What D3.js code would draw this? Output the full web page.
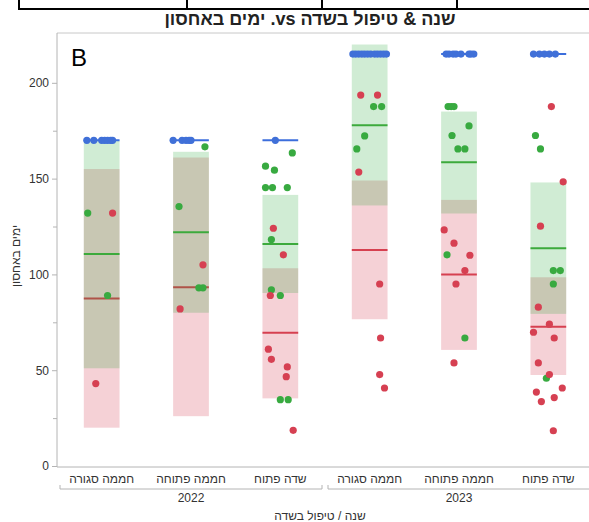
<!DOCTYPE html>
<html lang="he">
<head>
  <meta charset="UTF-8">
  <title>ימים באחסון</title>
  <script src="https://d3js.org/d3.v7.min.js"></script>
  <style>
    body { margin: 0; background: #fff; }
    svg { width: 589px; height: 522px; display: block; }
    text { font-family: "Liberation Sans", "DejaVu Sans", sans-serif; fill: #333; }
  </style>
</head>
<body>
  <svg></svg>

  <script>
    const years = [`2022`, `2023`];
    const treatments = [`חממה סגורה`, `חממה פתוחה`, `שדה פתוח`];
    const yTicks = [0, 50, 100, 150, 200];
    const yMinorTicks = [25, 75, 125, 175];

    // box ranges [low, high] per category (2022 x3, 2023 x3)
    const greenBoxes = [[51, 170], [80, 164], [90.3, 141.5], [136, 220], [131.8, 185], [79.4, 148]];
    const redBoxes = [[20, 155], [26, 161], [35.3, 103.2], [76.6, 149], [60.6, 138.9], [47.5, 98.5]];
    const greenMeans = [110.7, 122, 115.9, 177.9, 158.6, 113.7];
    const redMeans = [87.4, 93.3, 69.6, 112.8, 99.9, 72.7];
    const blueLevels = [170, 170, 170, 215, 215, 215];

    // jitter inside the box, -1 .. 1
    const blueJitter = [
      [-0.83, -0.44, 0, 0.17, 0.33, 0.5, 0.61],
      [-1, -0.5, -0.28, -0.11, 0],
      [-0.28],
      [-0.94, -0.78, -0.61, -0.44, -0.28, -0.11, 0.06, 0.28, 0.44, 0.61, 0.78, 0.94],
      [-0.72, -0.56, -0.33, -0.17, 0.11, 0.56, 0.67, 0.83],
      [-0.83, -0.5, -0.22, 0.06, 0.39]
    ];

    // [value, jitter]
    const greenPoints = [
      [[132, -0.78], [89, 0.33]],
      [[166.6, 0.78], [135.4, -0.67], [93, 0.44], [93, 0.67]],
      [[163.4, 0.67], [156.5, -0.83], [154.4, -0.33], [145.3, -0.83], [145.3, -0.44], [145.3, 0.39],
       [118.2, -0.5], [92, -0.5], [89, 0], [34.6, 0], [34.6, 0.44]],
      [[187.6, 0.22], [187.6, 0.67], [172.3, -0.28], [165.5, -0.72]],
      [[187.6, -0.61], [187.6, -0.44], [187.6, -0.28], [177.5, 0.56], [172.5, -0.39], [165.5, -0.06],
       [165.5, 0.33], [110.2, -0.67], [66.8, 0.33]],
      [[172.5, -0.72], [165.5, -0.44], [102, 0.28], [102, 0.67], [95, 0.28], [45.8, -0.11]]
    ];

    const redPoints = [
      [[132, 0.61], [43, -0.33]],
      [[105, 0.67], [82, -0.61]],
      [[124.1, -0.39], [110.2, 0.17], [89, -0.56], [61, -0.67], [55.7, -0.5], [51.7, 0.39], [46.6, 0.33], [18.6, 0.72]],
      [[193.6, -0.5], [193.6, 0.44], [153.4, -0.61], [95, 0.56], [66.8, 0.61], [47.7, 0.56], [40.7, 0.83]],
      [[123.2, -0.83], [116.3, -0.28], [110, 0.61], [102, 0.33], [95, -0.17], [53.8, -0.28]],
      [[187.6, 0.17], [148.3, 0.83], [125.2, -0.44], [82.9, -0.56], [74, 0.06], [69.8, -0.83], [66.8, 0.33],
       [53.8, -0.56], [47.7, 0.06], [40.7, 0.78], [38.6, -0.67], [35.7, 0.33], [33.6, -0.39], [18.4, 0.28]]
    ];

    const plot = {left: 57, right: 593, top: 33, bottom: 466};
    const categories = d3.range(years.length * treatments.length);

    const xScale = d3.scaleBand()
      .domain(categories)
      .range([plot.left, plot.right]);
    const yScale = d3.scaleLinear()
      .domain([0, 226])
      .range([plot.bottom, plot.top]);

    const boxW = xScale.bandwidth() * 0.4;
    const cx = i => xScale(i) + xScale.bandwidth() / 2;
    const jx = (i, j) => cx(i) + j * boxW / 2;

    const svg = d3.select(`svg`);

    // remnant of the table above the chart
    svg.append(`line`).attr(`x1`, 19).attr(`x2`, 589).attr(`y1`, 9).attr(`y2`, 9)
      .attr(`stroke`, `#000`).attr(`stroke-width`, 2);
    [19, 187, 322, 457].forEach(x => {
      svg.append(`line`).attr(`x1`, x).attr(`x2`, x).attr(`y1`, 0).attr(`y2`, 10)
        .attr(`stroke`, `#000`).attr(`stroke-width`, 2);
    });

    svg.append(`text`)
      .attr(`x`, 310).attr(`y`, 25)
      .attr(`text-anchor`, `middle`)
      .attr(`direction`, `rtl`)
      .style(`direction`, `rtl`)
      .attr(`font-size`, 18).attr(`font-weight`, `bold`)
      .style(`fill`, `#222`)
      .text(`שנה & טיפול בשדה vs. ימים באחסון`);

    // frame
    svg.append(`line`).attr(`x1`, plot.left).attr(`x2`, 589).attr(`y1`, plot.top).attr(`y2`, plot.top)
      .attr(`stroke`, `#c8c8c8`);
    svg.append(`line`).attr(`x1`, plot.left).attr(`x2`, 589).attr(`y1`, plot.bottom + 1).attr(`y2`, plot.bottom + 1)
      .attr(`stroke`, `#b4b4b4`);

    // red boxes + means (under the translucent green)
    svg.selectAll(`.rbox`).data(redBoxes).enter().append(`rect`)
      .attr(`x`, (d, i) => cx(i) - boxW / 2)
      .attr(`width`, boxW)
      .attr(`y`, d => yScale(d[1]))
      .attr(`height`, d => yScale(d[0]) - yScale(d[1]))
      .attr(`fill`, `rgb(245,209,214)`);
    svg.selectAll(`.rmean`).data(redMeans).enter().append(`line`)
      .attr(`x1`, (d, i) => cx(i) - boxW / 2).attr(`x2`, (d, i) => cx(i) + boxW / 2)
      .attr(`y1`, d => yScale(d)).attr(`y2`, d => yScale(d))
      .attr(`stroke`, `rgb(214,64,80)`).attr(`stroke-width`, 2);

    svg.selectAll(`.gbox`).data(greenBoxes).enter().append(`rect`)
      .attr(`x`, (d, i) => cx(i) - boxW / 2)
      .attr(`width`, boxW)
      .attr(`y`, d => yScale(d[1]))
      .attr(`height`, d => yScale(d[0]) - yScale(d[1]))
      .attr(`fill`, `rgb(20,160,40)`).attr(`fill-opacity`, 0.2);
    svg.selectAll(`.gmean`).data(greenMeans).enter().append(`line`)
      .attr(`x1`, (d, i) => cx(i) - boxW / 2).attr(`x2`, (d, i) => cx(i) + boxW / 2)
      .attr(`y1`, d => yScale(d)).attr(`y2`, d => yScale(d))
      .attr(`stroke`, `rgb(60,170,60)`).attr(`stroke-width`, 2);

    svg.selectAll(`.bline`).data(blueLevels).enter().append(`line`)
      .attr(`x1`, (d, i) => cx(i) - boxW / 2).attr(`x2`, (d, i) => cx(i) + boxW / 2)
      .attr(`y1`, d => yScale(d)).attr(`y2`, d => yScale(d))
      .attr(`stroke`, `rgb(60,110,220)`).attr(`stroke-width`, 2);

    const dot = (pts, color) => {
      pts.forEach((list, i) => {
        svg.append(`g`).selectAll(`circle`).data(list).enter().append(`circle`)
          .attr(`cx`, d => jx(i, d[1]))
          .attr(`cy`, d => yScale(d[0]))
          .attr(`r`, 3.6)
          .attr(`fill`, color);
      });
    };
    dot(blueJitter.map((js, i) => js.map(j => [blueLevels[i], j])), `rgb(64,112,216)`);
    dot(greenPoints, `rgb(56,170,64)`);
    dot(redPoints, `rgb(214,64,82)`);

    // y axis
    const yAxis = d3.axisLeft(yScale).tickValues(yTicks).tickSize(5).tickPadding(3);
    const yG = svg.append(`g`).attr(`transform`, `translate(${plot.left}, 0)`).call(yAxis);
    yG.select(`.domain`).attr(`stroke`, `#b4b4b4`).attr(`d`, `M0,${plot.top}V${plot.bottom + 1}`);
    yG.selectAll(`.tick line`).attr(`stroke`, `#b4b4b4`);
    yG.selectAll(`.tick text`).attr(`font-size`, 12).style(`fill`, `#333`)
      .attr(`font-family`, `"Liberation Sans", sans-serif`);
    const yMinor = d3.axisLeft(yScale).tickValues(yMinorTicks).tickSize(4).tickFormat(``);
    const yMG = svg.append(`g`).attr(`transform`, `translate(${plot.left}, 0)`).call(yMinor);
    yMG.select(`.domain`).remove();
    yMG.selectAll(`.tick line`).attr(`stroke`, `#b4b4b4`);

    svg.append(`text`)
      .attr(`transform`, `translate(20, 256) rotate(-90)`)
      .attr(`text-anchor`, `middle`)
      .attr(`font-size`, 12)
      .text(`ימים באחסון`);

    svg.append(`text`)
      .attr(`x`, 71).attr(`y`, 66)
      .attr(`font-family`, `Lato, sans-serif`)
      .attr(`font-size`, 24)
      .style(`fill`, `#000`)
      .text(`B`);

    // nested x axis
    svg.selectAll(`.cat`).data(categories).enter().append(`text`)
      .attr(`x`, i => cx(i)).attr(`y`, 483)
      .attr(`text-anchor`, `middle`)
      .attr(`font-size`, 12)
      .text(i => treatments[i % treatments.length]);

    years.forEach((yr, k) => {
      const a = xScale(k * 3) + 3;
      const b = Math.min(xScale(k * 3 + 2) + xScale.bandwidth() - 3, 592);
      svg.append(`path`)
        .attr(`d`, `M${a},485V489H${b}V485`)
        .attr(`fill`, `none`).attr(`stroke`, `#b4b4b4`);
      svg.append(`text`)
        .attr(`x`, (xScale(k * 3) + xScale(k * 3 + 2) + xScale.bandwidth()) / 2).attr(`y`, 502)
        .attr(`text-anchor`, `middle`)
        .attr(`font-size`, 12)
        .text(yr);
    });

    svg.append(`text`)
      .attr(`x`, 320).attr(`y`, 520)
      .attr(`text-anchor`, `middle`)
      .attr(`font-size`, 12)
      .text(`שנה / טיפול בשדה`);
  </script>
</body>
</html>
